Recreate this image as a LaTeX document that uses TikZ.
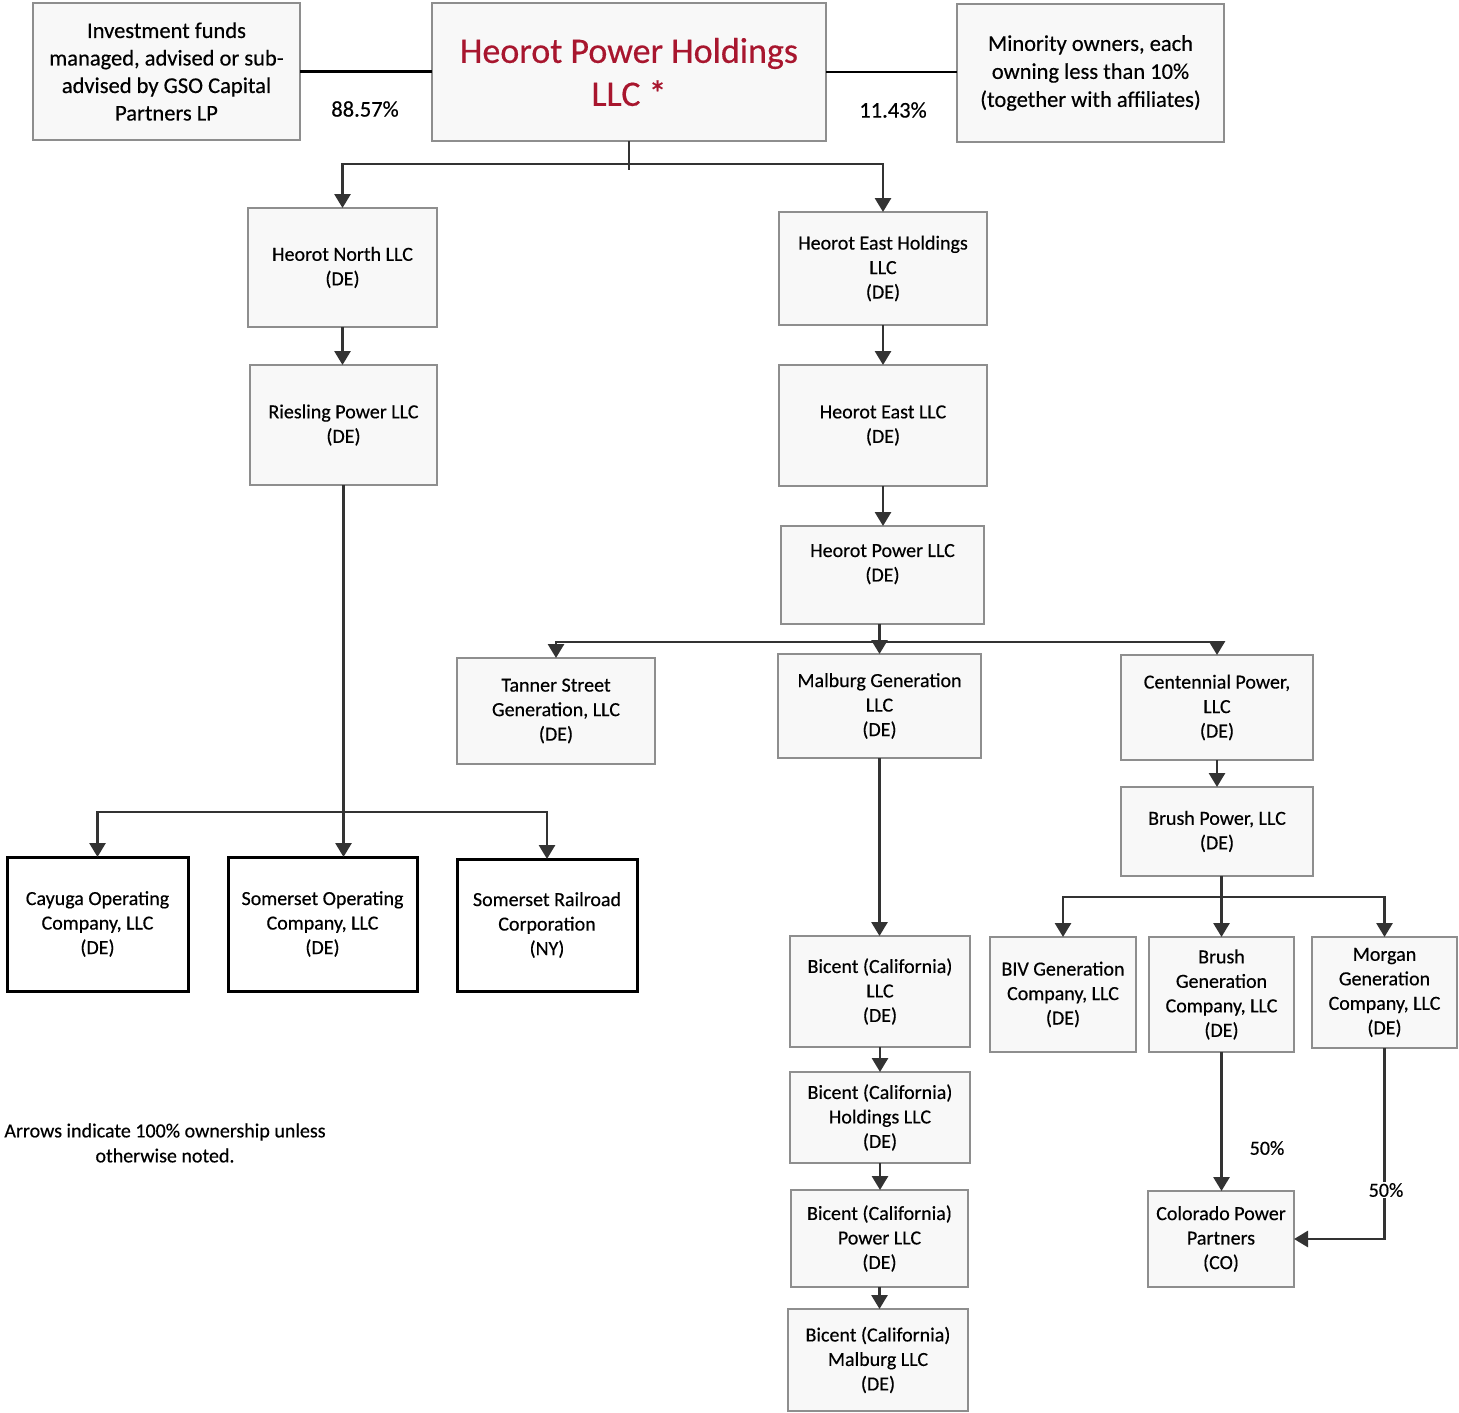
\documentclass[tikz,border=0pt]{standalone}
\usepackage{fontspec}
\setmainfont{Carlito}[UprightFeatures={FakeBold=0.4}]
\usetikzlibrary{arrows.meta}
\definecolor{boxline}{HTML}{8E8E8E}
\definecolor{boxfill}{HTML}{F8F8F8}
\definecolor{connc}{HTML}{333333}
\definecolor{titlered}{HTML}{A8162E}
\begin{document}
\begin{tikzpicture}[x=1pt,y=-1pt,
  box/.style={draw=boxline, line width=1.6pt, fill=boxfill, inner sep=0pt, outer sep=0pt,
    align=center, font=\fontsize{20}{24.5}\selectfont},
  heavybox/.style={box, draw=black, line width=3pt, fill=white},
  conn/.style={draw=connc, line width=2.8pt},
  arr/.style={conn, -{Triangle[width=16pt,length=14pt]}},
  pct/.style={font=\fontsize{22.5}{27}\selectfont, inner sep=1pt}]
\useasboundingbox[fill=white] (0,0) rectangle (1459,1413);

% top row
\node[box, minimum width=267pt, minimum height=137pt, font=\fontsize{22.5}{27.5}\selectfont] (inv) at (166.5,71.5)
  {Investment funds\\managed, advised or sub-\\advised by GSO Capital\\Partners LP};
\node[box, minimum width=394pt, minimum height=138pt, font=\fontsize{36}{43}\selectfont, text=titlered] (hph) at (629,72)
  {Heorot Power Holdings\\LLC *};
\node[box, minimum width=267pt, minimum height=138pt, font=\fontsize{22.5}{28}\selectfont] (mino) at (1090.5,73)
  {Minority owners, each\\owning less than 10\%\\(together with affiliates)};
\node[pct] (p1) at (365,109) {88.57\%};
\node[pct] (p2) at (893,110) {11.43\%};

% left branch
\node[box, minimum width=189pt, minimum height=119pt] (north) at (342.5,267.5) {Heorot North LLC\\(DE)};
\node[box, minimum width=187pt, minimum height=120pt] (ries) at (343.5,425) {Riesling Power LLC\\(DE)};
\node[heavybox, minimum width=181pt, minimum height=134pt] (cay) at (97.5,924) {Cayuga Operating\\Company, LLC\\(DE)};
\node[heavybox, minimum width=189pt, minimum height=134pt] (somop) at (322.5,924) {Somerset Operating\\Company, LLC\\(DE)};
\node[heavybox, minimum width=180pt, minimum height=132pt] (somrr) at (547,925) {Somerset Railroad\\Corporation\\(NY)};

% right branch
\node[box, minimum width=208pt, minimum height=113pt] (eh) at (883,268.5) {Heorot East Holdings\\LLC\\(DE)};
\node[box, minimum width=208pt, minimum height=121pt] (east) at (883,425.5) {Heorot East LLC\\(DE)};
\node[box, minimum width=203pt, minimum height=98pt] (pow) at (882.5,575) {Heorot Power LLC\\(DE)\\\mbox{}};
\node[box, minimum width=198pt, minimum height=106pt] (tan) at (556,711) {Tanner Street\\Generation, LLC\\(DE)};
\node[box, minimum width=203pt, minimum height=104pt] (mal) at (879.5,706) {Malburg Generation\\LLC\\(DE)};
\node[box, minimum width=192pt, minimum height=105pt] (cen) at (1217,707.5) {Centennial Power,\\LLC\\(DE)};
\node[box, minimum width=192pt, minimum height=89pt] (bp) at (1217,831.5) {Brush Power, LLC\\(DE)};
\node[box, minimum width=146pt, minimum height=115pt] (biv) at (1063,994.5) {BIV Generation\\Company, LLC\\(DE)};
\node[box, minimum width=145pt, minimum height=115pt] (bg) at (1221.5,994.5) {Brush\\Generation\\Company, LLC\\(DE)};
\node[box, minimum width=145pt, minimum height=111pt] (mor) at (1384.5,992.5) {Morgan\\Generation\\Company, LLC\\(DE)};
\node[box, minimum width=146pt, minimum height=96pt] (col) at (1221,1239) {Colorado Power\\Partners\\(CO)};
\node[box, minimum width=180pt, minimum height=111pt] (bc) at (880,991.5) {Bicent (California)\\LLC\\(DE)};
\node[box, minimum width=180pt, minimum height=91pt] (bch) at (880,1117.5) {Bicent (California)\\Holdings LLC\\(DE)};
\node[box, minimum width=177pt, minimum height=97pt] (bcp) at (879.5,1238.5) {Bicent (California)\\Power LLC\\(DE)};
\node[box, minimum width=180pt, minimum height=102pt] (bcm) at (878,1360) {Bicent (California)\\Malburg LLC\\(DE)};

\node[align=center, font=\fontsize{20}{25}\selectfont, inner sep=0pt] (note) at (165,1143)
  {Arrows indicate 100\% ownership unless\\otherwise noted.};

% connectors: top
\draw[conn, draw=black] (inv.east) -- (inv.east -| hph.west);
\draw[conn, draw=black] (hph.east) -- (hph.east -| mino.west);
\coordinate (j1) at (hph.south |- 0,164);
\draw[conn] (hph.south) -- ++(0,29);
\draw[arr] (j1) -| (north.north);
\draw[arr] (j1) -| (eh.north);

% left
\draw[arr] (north.south) -- (north.south |- ries.north);
\coordinate (j2) at (ries.south |- 0,812);
\draw[arr] (ries.south) -- (ries.south |- somop.north);
\draw[arr] (j2) -| (cay.north);
\draw[arr] (j2) -| (somrr.north);

% right
\draw[arr] (eh.south) -- (east.north);
\draw[arr] (east.south) -- (east.south |- pow.north);
\coordinate (j4) at (mal.north |- 0,642);
\draw[conn] (pow.south -| mal.north) -- (j4);
\draw[arr] (j4) -- (mal.north);
\draw[arr] (j4) -| (tan.north);
\draw[arr] (j4) -| (cen.north);
\draw[arr] (cen.south) -- (bp.north);
\coordinate (j5) at (bg.north |- 0,897);
\draw[conn] (bg.north |- bp.south) -- (j5);
\draw[arr] (j5) -- (bg.north);
\draw[arr] (j5) -| (biv.north);
\draw[arr] (j5) -| (mor.north);

\draw[arr] (mal.south) -- (mal.south |- bc.north);
\draw[arr] (bc.south) -- (bc.south |- bch.north);
\draw[arr] (bch.south) -- (bch.south |- bcp.north);
\draw[arr] (bcp.south) -- (bcp.south |- bcm.north);

\draw[arr] (bg.south) -- (bg.south |- col.north);
\coordinate (k) at (mor.south |- col.east);
\draw[arr] (mor.south) -- (k) -- (col.east);
\node[pct, font=\fontsize{20}{24}\selectfont] (p3) at (1267,1148) {50\%};
\node[pct, font=\fontsize{20}{24}\selectfont, fill=white] (p4) at (1386,1190) {50\%};
\end{tikzpicture}
\end{document}
